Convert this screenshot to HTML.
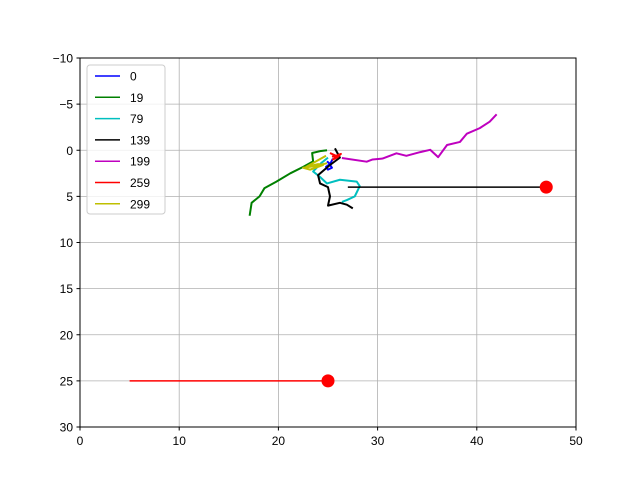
<!DOCTYPE html>
<html><head><meta charset="utf-8"><style>
body{margin:0;background:#fff;}
svg{display:block;font-family:"Liberation Sans",sans-serif;}
</style></head><body>
<svg id="chart" width="640" height="480" xmlns="http://www.w3.org/2000/svg">
<rect x="0" y="0" width="640" height="480" fill="#fff"/>
<g id="grid"></g>
<g id="series"></g>
<rect x="80" y="58" width="496" height="369" fill="none" stroke="#000" stroke-width="1"/>
<g id="axes"></g>
<g id="legend"></g>
</svg>
<script>
const xTicks=[0,10,20,30,40,50];
const yTicks=[-10,-5,0,5,10,15,20,25,30];
const yTickLabels=["\u221210","\u22125","0","5","10","15","20","25","30"];
const seriesNames=["0","19","79","139","199","259","299"];
const seriesColors=["#0000ff","#008000","#00bfbf","#000000","#bf00bf","#ff0000","#bfbf00"];
const s0x=[25.5,25.2,24.8,25.0,25.4,25.1,24.9];
const s0y=[0.9,1.5,1.8,2.1,1.9,1.4,1.2];
const s19x=[24.9,24.2,23.4,23.5,22.5,21.2,19.8,18.6,18.1,17.3,17.1];
const s19y=[0.0,0.1,0.3,1.2,1.8,2.5,3.4,4.1,5.0,5.7,7.1];
const s79x=[25.0,24.3,23.5,24.2,24.9,26.2,27.9,28.2,27.7,26.9,26.4];
const s79y=[0.8,1.4,2.3,2.9,3.6,3.2,3.4,3.9,5.0,5.4,5.6];
const s139x=[25.7,26.2,25.2,24.0,24.2,25.0,25.2,25.0,26.2,26.9,27.5];
const s139y=[-0.2,0.8,1.6,2.7,3.6,4.0,5.0,6.0,5.7,5.9,6.3];
const s199x=[26.4,28.9,29.5,30.5,31.9,32.9,34.3,35.3,36.1,37.0,38.3,39.0,40.3,41.3,42.0];
const s199y=[0.84,1.24,1.0,0.9,0.33,0.6,0.2,-0.05,0.75,-0.57,-0.9,-1.8,-2.4,-3.1,-3.9];
const s259x=[25.2,25.8,26.3,25.5,25.9,26.2,25.4];
const s259y=[0.3,0.6,0.4,1.0,0.8,0.5,0.7];
const s299x=[24.9,23.8,22.5,23.2,24.5,24.0,22.8,24.8];
const s299y=[1.4,1.7,1.9,2.1,1.6,1.5,1.8,0.6];
const seriesX=[s0x,s19x,s79x,s139x,s199x,s259x,s299x];
const seriesY=[s0y,s19y,s79y,s139y,s199y,s259y,s299y];
const targetLineX=[[27,47],[5,25]];
const targetLineY=[[4,4],[25,25]];
const targetColors=["#000000","#ff0000"];

const NS="http://www.w3.org/2000/svg";
const X=v=>80+(v-0)/50*496;
const Y=v=>58+(v+10)/40*369;
function mk(t,a,p){const e=document.createElementNS(NS,t);for(const k in a)e.setAttribute(k,a[k]);p.appendChild(e);return e;}
const grid=document.getElementById('grid'),axes=document.getElementById('axes'),ser=document.getElementById('series'),leg=document.getElementById('legend');
xTicks.forEach(v=>{
 let l=mk('line',{x1:X(v),x2:X(v),y1:58,y2:427,stroke:'#b0b0b0','stroke-width':0.8},grid);
 
 let t=mk('line',{x1:X(v),x2:X(v),y1:427,y2:430.5,stroke:'#000'},axes);
 
 let tx=mk('text',{x:X(v),y:445,'text-anchor':'middle','font-size':12},axes);tx.textContent=v;
 
});
yTicks.forEach((v,i)=>{
 let l=mk('line',{x1:80,x2:576,y1:Y(v),y2:Y(v),stroke:'#b0b0b0','stroke-width':0.8},grid);
 
 let t=mk('line',{x1:76.5,x2:80,y1:Y(v),y2:Y(v),stroke:'#000'},axes);
 
 let tx=mk('text',{x:73,y:Y(v)+4.5,'text-anchor':'end','font-size':12},axes);tx.textContent=yTickLabels[i];
 
});
seriesX.forEach((xs,i)=>{
 const pts=xs.map((x,j)=>X(x)+','+Y(seriesY[i][j])).join(' ');
 let p=mk('polyline',{points:pts,fill:'none',stroke:seriesColors[i],'stroke-width':2,'stroke-linejoin':'round'},ser);
 
});
targetLineX.forEach((xs,i)=>{
 let l=mk('line',{x1:X(xs[0]),x2:X(xs[1]),y1:Y(targetLineY[i][0]),y2:Y(targetLineY[i][1]),stroke:targetColors[i],'stroke-width':1.5},ser);
 
 let c=mk('circle',{cx:X(xs[1]),cy:Y(targetLineY[i][1]),r:6.5,fill:'#ff0000'},ser);
 
});
let box=mk('rect',{x:87,y:65,width:78,height:149,rx:3,fill:'#fff','fill-opacity':0.8,stroke:'#cccccc'},leg);

seriesNames.forEach((n,i)=>{
 const y=76+i*21.3;
 let l=mk('line',{x1:95,x2:120,y1:y,y2:y,stroke:seriesColors[i],'stroke-width':1.5},leg);
 
 let t=mk('text',{x:130,y:y+4.5,'font-size':12},leg);t.textContent=n;
 
});
</script>
</body></html>
